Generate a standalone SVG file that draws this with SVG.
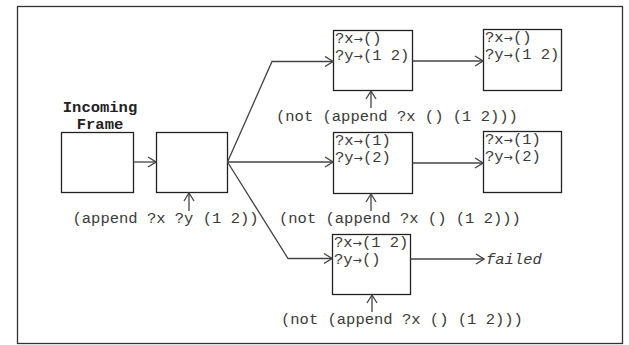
<svg xmlns="http://www.w3.org/2000/svg" width="629" height="345" viewBox="0 0 629 345">
  <style>
    .frame { fill: #fff; stroke: #222; stroke-width: 1.3; }
    .edge { fill: none; stroke: #444; stroke-width: 1.3; }
    .t { font-family: "Liberation Mono", "Courier New", monospace; font-size: 15.5px; fill: #3a3a3a; }
    .b { font-weight: bold; text-anchor: middle; fill: #222; }
    .i { font-style: italic; }
    .a { font-family: "DejaVu Sans", sans-serif; font-size: 11.1px; }
  </style>
  <defs>
    <marker id="arr" viewBox="0 0 10 12" refX="9" refY="6" markerWidth="10" markerHeight="12" markerUnits="userSpaceOnUse" orient="auto">
      <path d="M1,1 L9,6 L1,11" fill="none" stroke="#444" stroke-width="1.3"/>
    </marker>
  </defs>

  <rect x="17.5" y="6.5" width="605" height="337" fill="#fff" stroke="#333" stroke-width="1.3"/>

  <g id="incoming">
    <text class="t b" x="100" y="112">Incoming</text>
    <text class="t b" x="100" y="129">Frame</text>
    <rect class="frame" x="61.5" y="132.5" width="72" height="60"/>
  </g>

  <g id="append">
    <rect class="frame" x="156.5" y="132.5" width="71" height="60"/>
    <text class="t" x="72.5" y="223">(append ?x ?y (1 2))</text>
  </g>

  <g id="branch1">
    <rect class="frame" x="333.5" y="30.5" width="79" height="60"/>
    <text class="t" x="335" y="43">?x<tspan class="a">→</tspan>()</text>
    <text class="t" x="335" y="60">?y<tspan class="a">→</tspan>(1 2)</text>
    <text class="t" x="276" y="121">(not (append ?x () (1 2)))</text>
  </g>

  <g id="result1">
    <rect class="frame" x="483.5" y="29.5" width="78" height="61"/>
    <text class="t" x="485" y="42">?x<tspan class="a">→</tspan>()</text>
    <text class="t" x="485" y="59">?y<tspan class="a">→</tspan>(1 2)</text>
  </g>

  <g id="branch2">
    <rect class="frame" x="333.5" y="132.5" width="79" height="61"/>
    <text class="t" x="335" y="145">?x<tspan class="a">→</tspan>(1)</text>
    <text class="t" x="335" y="162">?y<tspan class="a">→</tspan>(2)</text>
    <text class="t" x="279" y="223">(not (append ?x () (1 2)))</text>
  </g>

  <g id="result2">
    <rect class="frame" x="483.5" y="131.5" width="78" height="61"/>
    <text class="t" x="485" y="144">?x<tspan class="a">→</tspan>(1)</text>
    <text class="t" x="485" y="161">?y<tspan class="a">→</tspan>(2)</text>
  </g>

  <g id="branch3">
    <rect class="frame" x="332.5" y="234.5" width="78" height="60"/>
    <text class="t" x="334" y="247">?x<tspan class="a">→</tspan>(1 2)</text>
    <text class="t" x="334" y="264">?y<tspan class="a">→</tspan>()</text>
    <text class="t" x="281" y="324">(not (append ?x () (1 2)))</text>
  </g>

  <g id="failed">
    <text class="t i" x="486" y="264">failed</text>
  </g>

  <g id="connectors">
    <path class="edge" marker-end="url(#arr)" d="M133.5,162 H156"/>
    <path class="edge" marker-end="url(#arr)" d="M227.5,162 L272,61.5 H333"/>
    <path class="edge" marker-end="url(#arr)" d="M227.5,162 H333"/>
    <path class="edge" marker-end="url(#arr)" d="M227.5,162 L288,258.5 H332"/>
    <path class="edge" marker-end="url(#arr)" d="M412.5,61 H483"/>
    <path class="edge" marker-end="url(#arr)" d="M412.5,163 H483"/>
    <path class="edge" marker-end="url(#arr)" d="M410.5,259 H484"/>
    <path class="edge" marker-end="url(#arr)" d="M189,211 V193"/>
    <path class="edge" marker-end="url(#arr)" d="M371,108 V91"/>
    <path class="edge" marker-end="url(#arr)" d="M371,211 V194"/>
    <path class="edge" marker-end="url(#arr)" d="M372,312 V295"/>
  </g>
</svg>
